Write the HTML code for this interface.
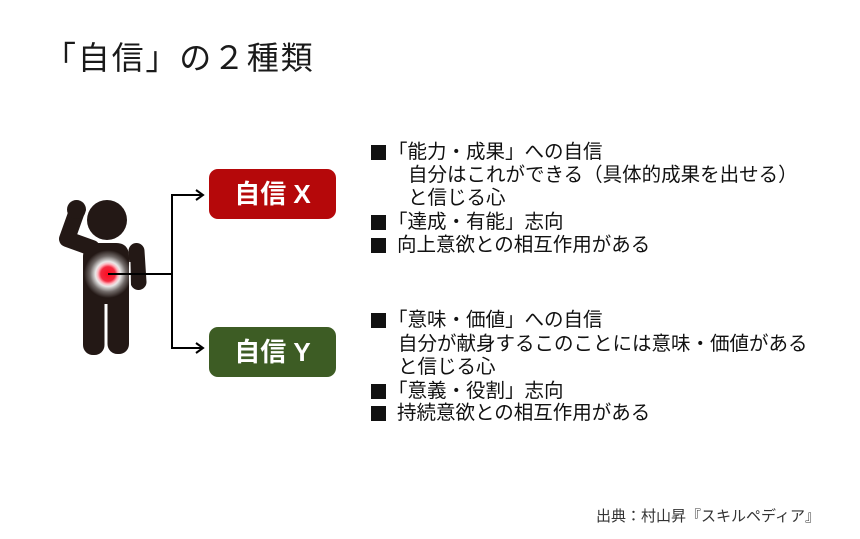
<!DOCTYPE html>
<html><head><meta charset="utf-8">
<style>
html,body{margin:0;padding:0;background:#fff;}
body{width:860px;height:539px;position:relative;overflow:hidden;font-family:"Liberation Sans","Noto Sans CJK JP",sans-serif;}
.t{position:absolute;white-space:nowrap;font-size:19.5px;line-height:23px;color:#111;}
.sq{position:absolute;left:371px;width:15px;height:15px;background:#111;}
.title{position:absolute;left:44px;top:38px;font-size:32px;line-height:40px;letter-spacing:1.8px;color:#1a1a1a;white-space:nowrap;}
.foot{position:absolute;left:596px;top:508px;font-size:15px;line-height:18px;color:#333;white-space:nowrap;}
.box{position:absolute;left:209px;width:127px;height:50px;border-radius:9px;color:#fff;font-weight:bold;font-size:26px;line-height:50px;text-align:center;white-space:nowrap;}
</style></head><body>
<svg width="860" height="539" style="position:absolute;left:0;top:0">
<defs>
<radialGradient id="g" cx="50%" cy="50%" r="50%">
<stop offset="0" stop-color="#ff0a1e"/>
<stop offset="0.30" stop-color="#f2283e"/>
<stop offset="0.42" stop-color="#ffb3bc"/>
<stop offset="0.52" stop-color="#ffffff" stop-opacity="0.9"/>
<stop offset="0.75" stop-color="#ffffff" stop-opacity="0.35"/>
<stop offset="1" stop-color="#ffffff" stop-opacity="0"/>
</radialGradient>
</defs>
<g fill="#231815" stroke="none">
<rect x="83" y="288" width="21.5" height="67" rx="10"/>
<rect x="107.5" y="288" width="21.5" height="66" rx="10"/>
<path d="M83,304 L83,257 Q83,243 97,243 L116,243 Q129,243 129,257 L129,304 Z"/>
<polyline points="77,211 67,239 92,248" fill="none" stroke="#231815" stroke-width="16" stroke-linecap="round" stroke-linejoin="round"/>
<line x1="136.5" y1="251" x2="138.5" y2="282" stroke="#231815" stroke-width="16" stroke-linecap="round"/>
<line x1="129.8" y1="262" x2="130.6" y2="300" stroke="#fff" stroke-width="1.4"/>
<circle cx="76.5" cy="209.5" r="9.5"/>
<circle cx="107" cy="220" r="23" fill="#fff"/>
<circle cx="107" cy="220" r="20"/>
</g>
<circle cx="108" cy="274" r="24" fill="url(#g)"/>
<g stroke="#000" stroke-width="2" fill="none">
<line x1="108" y1="274" x2="172" y2="274"/>
<line x1="172" y1="194" x2="172" y2="349"/>
<line x1="171" y1="195" x2="203" y2="195"/>
<line x1="171" y1="348" x2="203" y2="348"/>
<polyline points="196,190 203,195 196,200"/>
<polyline points="196,343 203,348 196,353"/>
</g>
</svg>

<div class="title">「自信」の２種類</div>

<div class="box" style="top:169px;background:#b5080a;">自信 X</div>
<div class="box" style="top:327px;background:#3d5c24;">自信 Y</div>

<div class="sq" style="top:145px"></div>
<div class="t" style="left:388px;top:141px">「能力・成果」への自信</div>
<div class="t" style="left:408px;top:164px">自分はこれができる（具体的成果を出せる）</div>
<div class="t" style="left:408px;top:187px">と信じる心</div>
<div class="sq" style="top:215px"></div>
<div class="t" style="left:388px;top:211px">「達成・有能」志向</div>
<div class="sq" style="top:238px"></div>
<div class="t" style="left:397px;top:234px">向上意欲との相互作用がある</div>

<div class="sq" style="top:313px"></div>
<div class="t" style="left:388px;top:309px">「意味・価値」への自信</div>
<div class="t" style="left:398px;top:333px">自分が献身するこのことには意味・価値がある</div>
<div class="t" style="left:398px;top:356px">と信じる心</div>
<div class="sq" style="top:384px"></div>
<div class="t" style="left:388px;top:380px">「意義・役割」志向</div>
<div class="sq" style="top:406px"></div>
<div class="t" style="left:397px;top:402px">持続意欲との相互作用がある</div>

<div class="foot">出典：村山昇『スキルペディア』</div>
</body></html>
